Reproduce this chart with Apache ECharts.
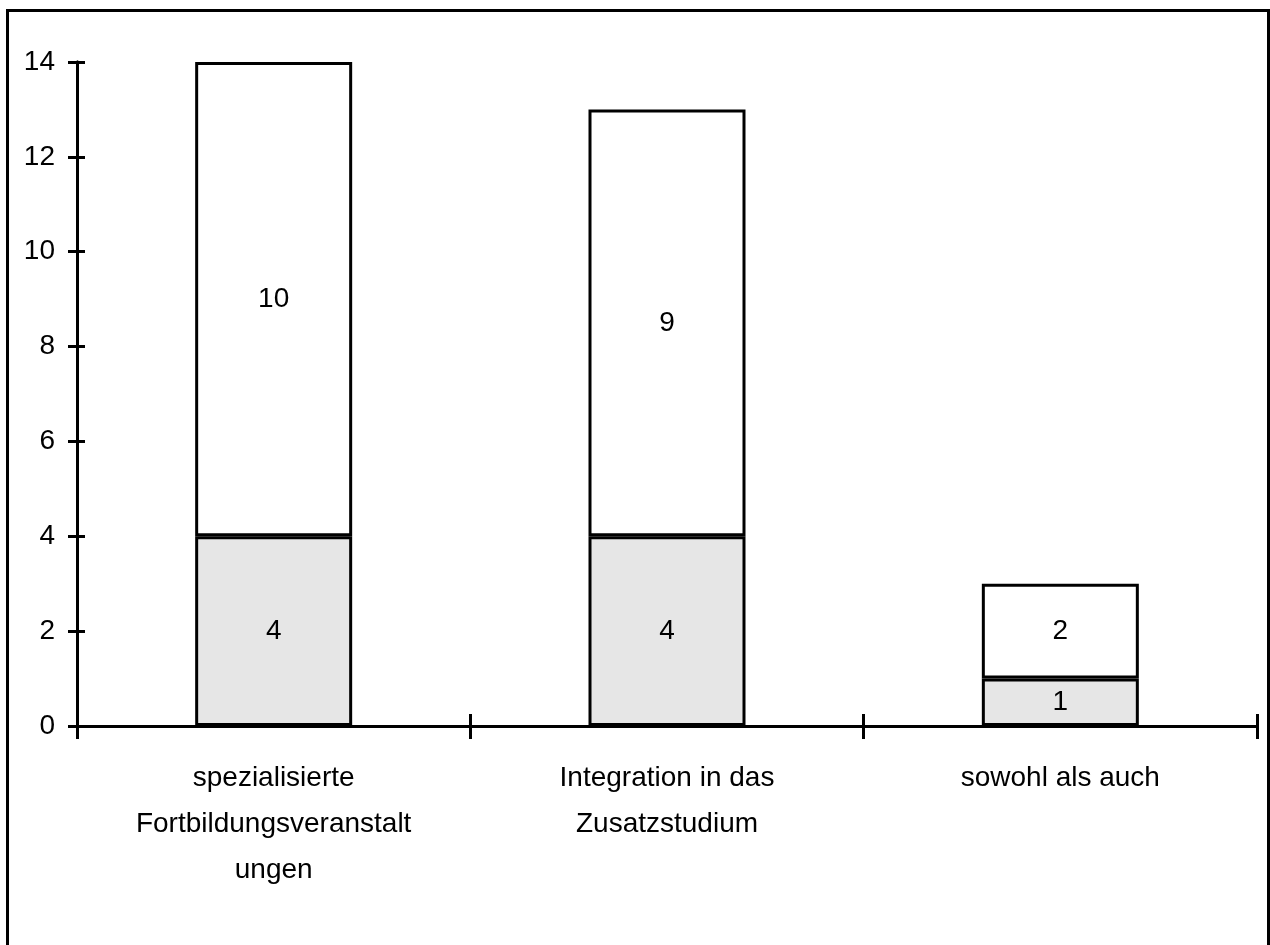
<!DOCTYPE html>
<html>
<head>
<meta charset="utf-8">
<script src="https://cdn.jsdelivr.net/npm/echarts@6/dist/echarts.min.js"></script>
<style>
html,body{margin:0;padding:0;background:#fff;}
#frame{position:absolute;left:6px;top:9px;width:1258px;height:945px;border-left:3px solid #000;border-right:3px solid #000;border-top:3px solid #000;box-sizing:content-box;}
#chart{position:absolute;left:0;top:0;width:1270px;height:945px;}
</style>
</head>
<body>
<div id="frame"></div>
<div id="chart"></div>
<script>
const categories = ['spezialisierte\nFortbildungsveranstalt\nungen', 'Integration in das\nZusatzstudium', 'sowohl als auch'];
const lowerValues = [4, 4, 1];
const upperValues = [10, 9, 2];
const yTicks = { min: 0, max: 14, interval: 2 };

const FONT = '"Liberation Sans", Arial, Helvetica, sans-serif';

const chart = echarts.init(document.getElementById('chart'), null, { renderer: 'canvas' });
const lineStyle = { color: '#000', width: 3 };
const baseY = {
  type: 'value', min: yTicks.min, max: yTicks.max, interval: yTicks.interval,
  splitLine: { show: false },
  axisLine: { show: true, lineStyle: lineStyle }
};
const option = {
  animation: false,
  backgroundColor: 'transparent',
  grid: { left: 77, right: 13, top: 62, bottom: 219, containLabel: false },
  xAxis: [
    {
      type: 'category', data: categories, position: 'bottom',
      axisLine: { show: true, lineStyle: lineStyle },
      axisTick: { show: true, inside: false, length: 13, alignWithLabel: false, lineStyle: lineStyle },
      axisLabel: { margin: 29, color: '#000', fontFamily: FONT, fontSize: 28, lineHeight: 46, interval: 0 }
    },
    {
      type: 'category', data: categories, position: 'bottom',
      axisLine: { show: false },
      axisTick: { show: true, inside: true, length: 12, lineStyle: lineStyle },
      axisLabel: { show: false }
    }
  ],
  yAxis: [
    Object.assign({}, baseY, {
      axisTick: { show: true, inside: false, length: 9, lineStyle: lineStyle },
      axisLabel: { margin: 22, color: '#000', fontFamily: FONT, fontSize: 28 }
    }),
    Object.assign({}, baseY, {
      position: 'left',
      axisTick: { show: true, inside: true, length: 8, lineStyle: lineStyle },
      axisLabel: { show: false }
    })
  ],
  series: [
    {
      name: 'lower', type: 'bar', stack: 'total', data: lowerValues,
      barWidth: 157,
      itemStyle: { color: '#e6e6e6', borderColor: '#000', borderWidth: 3 },
      label: { show: true, position: 'inside', color: '#000', fontFamily: FONT, fontSize: 28 }
    },
    {
      name: 'upper', type: 'bar', stack: 'total', data: upperValues,
      barWidth: 157,
      itemStyle: { color: '#ffffff', borderColor: '#000', borderWidth: 3 },
      label: { show: true, position: 'inside', color: '#000', fontFamily: FONT, fontSize: 28 }
    }
  ]
};
chart.setOption(option);
</script>
</body>
</html>
